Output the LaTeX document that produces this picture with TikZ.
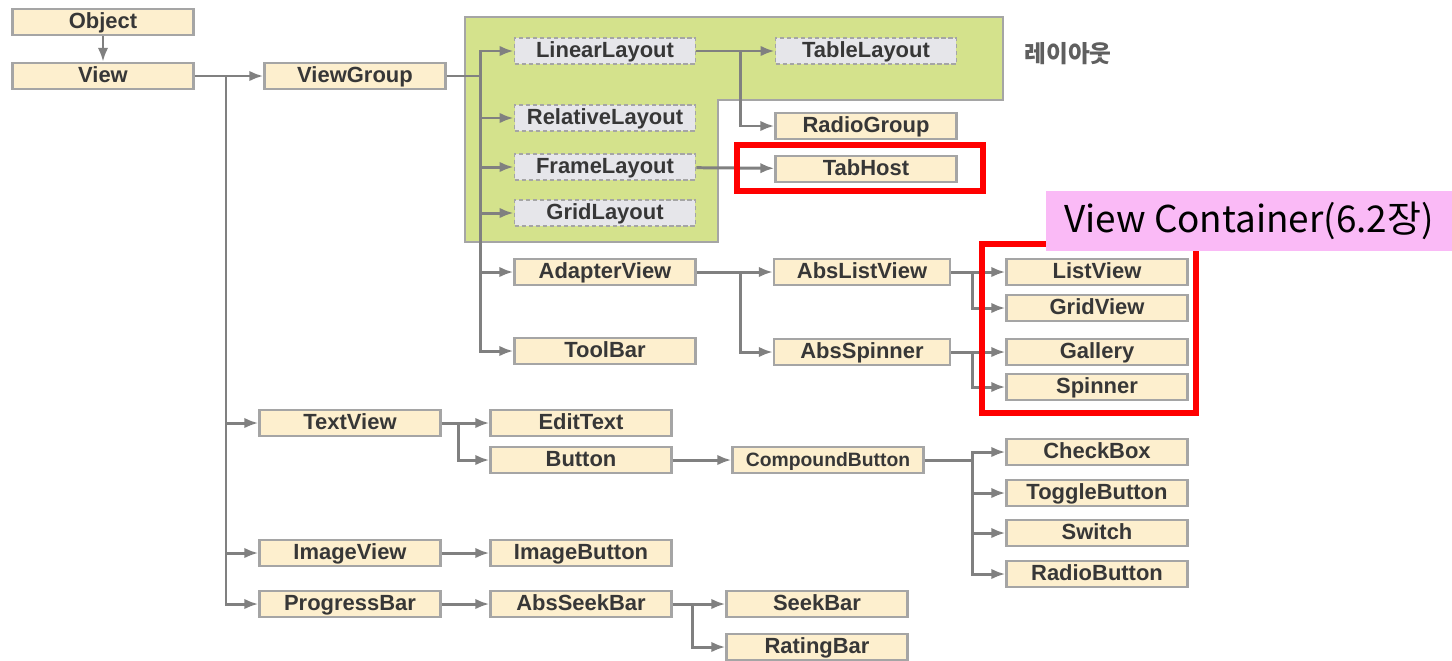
\documentclass[tikz,border=0pt]{standalone}
\usepackage{fontspec}
\setmainfont{Liberation Sans}
\newfontfamily\kor{Noto Sans CJK KR}
\usetikzlibrary{arrows.meta}
\definecolor{boxfill}{RGB}{253,239,206}
\definecolor{boxline}{RGB}{165,165,165}
\definecolor{layfill}{RGB}{230,230,234}
\definecolor{grnfill}{RGB}{212,226,140}
\definecolor{linegray}{RGB}{128,128,128}
\definecolor{pinkfill}{RGB}{250,186,246}
\definecolor{txtgray}{RGB}{55,55,55}
\begin{document}
\begin{tikzpicture}[x=0.02cm,y=-0.02cm,>={Latex[length=8pt,width=6pt]},
    cls/.style={draw=boxline,line width=1.3pt,fill=boxfill,minimum width=3.62cm,
        minimum height=0.52cm,inner sep=0pt,text=txtgray,text height=1.4ex,text depth=0pt,
        font=\fontsize{12.5}{14}\selectfont\bfseries},
    lay/.style={cls,fill=layfill,dash pattern=on 2.5pt off 1.5pt,line width=1pt},
    conn/.style={draw=linegray,line width=1.7pt},
    hilite/.style={draw=red,line width=2.9pt}]
    \useasboundingbox (0,0) rectangle (1452,660);
    % layout area
    \draw [fill=grnfill,draw=boxline,line width=1.3pt](465,17)--(1003,17)--(1003,100)
        --(718,100)--(718,242)--(465,242)--cycle;
    \node [text=txtgray!80,font=\kor\fontsize{13.5}{15}\selectfont\bfseries](laylabel) at (1068,54) {레이아웃};
    % classes
    \node [cls](obj) at (103,22) {Object};
    \node [cls](view) at (103,76) {View};
    \node [cls](vgroup) at (355,76) {ViewGroup};
    \node [lay](linlay) at (605,51) {LinearLayout};
    \node [lay](tablay) at (866,51) {TableLayout};
    \node [lay](rellay) at (605,118) {RelativeLayout};
    \node [cls](radiogrp) at (866,126) {RadioGroup};
    \node [lay](frmlay) at (605,167) {FrameLayout};
    \node [cls](tabhost) at (866,169) {TabHost};
    \node [lay](grdlay) at (605,213) {GridLayout};
    \node [cls](adapter) at (605,272) {AdapterView};
    \node [cls](toolbar) at (605,351) {ToolBar};
    \node [cls,minimum width=3.52cm](abslist) at (862,272) {AbsListView};
    \node [cls,minimum width=3.52cm](absspin) at (862,352) {AbsSpinner};
    \node [cls](listview) at (1097,272) {ListView};
    \node [cls](gridview) at (1097,308) {GridView};
    \node [cls](gallery) at (1097,352) {Gallery};
    \node [cls](spinner) at (1097,387) {Spinner};
    \node [cls](textview) at (350,423) {TextView};
    \node [cls](edittext) at (581,423) {EditText};
    \node [cls](button) at (581,460) {Button};
    \node [cls,minimum width=3.82cm,font=\fontsize{11}{13}\selectfont\bfseries](compbtn) at (828,460) {CompoundButton};
    \node [cls](checkbox) at (1097,452) {CheckBox};
    \node [cls](togglebtn) at (1097,493) {ToggleButton};
    \node [cls](switch) at (1097,533) {Switch};
    \node [cls](radiobtn) at (1097,574) {RadioButton};
    \node [cls](imgview) at (350,553) {ImageView};
    \node [cls](imgbtn) at (581,553) {ImageButton};
    \node [cls](progbar) at (350,604) {ProgressBar};
    \node [cls](absseek) at (581,604) {AbsSeekBar};
    \node [cls](seekbar) at (817,604) {SeekBar};
    \node [cls](ratingbar) at (817,647) {RatingBar};
    % branch points
    \coordinate (tview) at (226,76);
    \coordinate (tgroup) at (480,76);
    \coordinate (tlin) at (740,51);
    \coordinate (tadapt) at (740,272);
    \coordinate (tlist) at (972,272);
    \coordinate (tspin) at (972,352);
    \coordinate (ttext) at (458,423);
    \coordinate (tcomp) at (972,460);
    \coordinate (tseek) at (692,604);
    % connectors
    \draw [conn,->](obj)--(view);
    \draw [conn,->](view)--(tview)--(vgroup);
    \draw [conn,->](tview)|-(textview);
    \draw [conn,->](tview)|-(imgview);
    \draw [conn,->](tview)|-(progbar);
    \draw [conn](vgroup)--(tgroup);
    \draw [conn,->](tgroup)|-(linlay);
    \draw [conn,->](tgroup)|-(rellay);
    \draw [conn,->](tgroup)|-(frmlay);
    \draw [conn,->](tgroup)|-(grdlay);
    \draw [conn,->](tgroup)|-(adapter);
    \draw [conn,->](tgroup)|-(toolbar);
    \draw [conn,->](linlay)--(tlin)--(tablay);
    \draw [conn,->](tlin)|-(radiogrp);
    \draw [conn,->](frmlay)--(tabhost);
    \draw [conn,->](adapter)--(tadapt)--(abslist);
    \draw [conn,->](tadapt)|-(absspin);
    \draw [conn,->](abslist)--(tlist)--(listview);
    \draw [conn,->](tlist)|-(gridview);
    \draw [conn,->](absspin)--(tspin)--(gallery);
    \draw [conn,->](tspin)|-(spinner);
    \draw [conn,->](textview)--(ttext)--(edittext);
    \draw [conn,->](ttext)|-(button);
    \draw [conn,->](button)--(compbtn);
    \draw [conn](compbtn)--(tcomp);
    \draw [conn,->](tcomp)|-(checkbox);
    \draw [conn,->](tcomp)|-(togglebtn);
    \draw [conn,->](tcomp)|-(switch);
    \draw [conn,->](tcomp)|-(radiobtn);
    \draw [conn,->](imgview)--(imgbtn);
    \draw [conn,->](progbar)--(absseek);
    \draw [conn,->](absseek)--(tseek)--(seekbar);
    \draw [conn,->](tseek)|-(ratingbar);
    % highlights
    \draw [hilite](737,145) rectangle (983,191);
    \draw [hilite](982,244) rectangle (1196,413);
    \node [fill=pinkfill,minimum width=8.12cm,minimum height=1.2cm,inner sep=0pt,
        font=\kor\fontsize{21}{25}\selectfont](contlabel) at (1249,221) {View Container(6.2장)};
\end{tikzpicture}
\end{document}
